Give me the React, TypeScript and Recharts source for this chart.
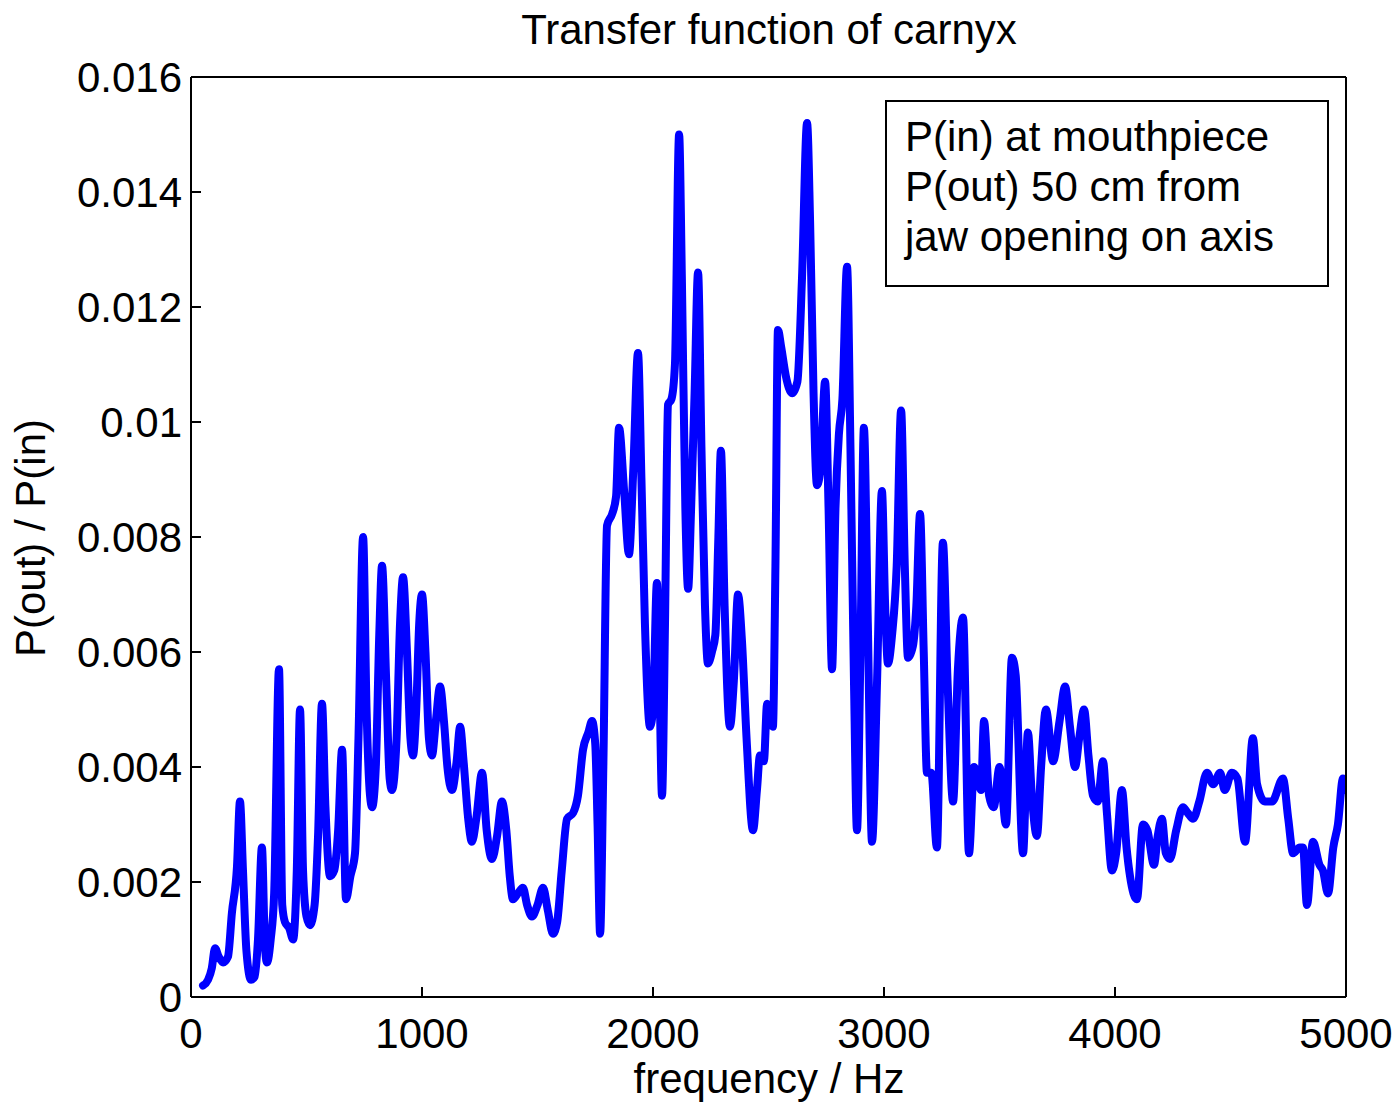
import React from 'react';
import { LineChart, Line, XAxis, YAxis } from 'recharts';

const freqs: number[] = [
  52, 74, 90, 104, 120, 139, 160, 177, 199, 212, 225, 240, 260, 275, 290, 307, 320, 329, 345, 360,
  381, 395, 407, 425, 442, 458, 472, 485, 500, 515, 535, 550, 567, 582, 602, 620, 637, 654, 671, 690,
  710, 725, 745, 760, 775, 784, 800, 815, 827, 845, 860, 870, 890, 905, 918, 935, 950, 961, 975, 988,
  1000, 1015, 1030, 1043, 1060, 1078, 1095, 1110, 1130, 1150, 1165, 1180, 1200, 1216, 1235, 1260, 1280, 1303, 1325, 1346,
  1365, 1380, 1394, 1415, 1437, 1455, 1476, 1500, 1524, 1545, 1567, 1585, 1605, 1628, 1654, 1675, 1697, 1720, 1736, 1750,
  1760, 1771, 1785, 1801, 1823, 1840, 1853, 1875, 1896, 1915, 1935, 1950, 1965, 1987, 2000, 2017, 2028, 2039, 2052, 2065,
  2080, 2095, 2113, 2125, 2140, 2152, 2165, 2180, 2195, 2210, 2225, 2238, 2255, 2270, 2283, 2294, 2310, 2333, 2350, 2368,
  2385, 2405, 2433, 2450, 2463, 2480, 2494, 2519, 2530, 2541, 2555, 2575, 2602, 2625, 2645, 2667, 2680, 2695, 2710, 2725,
  2745, 2760, 2775, 2790, 2805, 2820, 2840, 2855, 2870, 2883, 2898, 2913, 2930, 2948, 2970, 2991, 3005, 3017, 3035, 3055,
  3074, 3090, 3104, 3125, 3140, 3156, 3172, 3186, 3205, 3229, 3255, 3275, 3299, 3320, 3342, 3368, 3390, 3405, 3420, 3433,
  3455, 3475, 3500, 3528, 3554, 3570, 3602, 3623, 3640, 3662, 3680, 3701, 3732, 3760, 3784, 3805, 3827, 3845, 3866, 3885,
  3905, 3925, 3948, 3965, 3987, 4005, 4030, 4050, 4065, 4095, 4121, 4140, 4169, 4185, 4203, 4220, 4238, 4265, 4294, 4315,
  4338, 4365, 4398, 4425, 4455, 4475, 4506, 4530, 4563, 4597, 4615, 4649, 4680, 4727, 4750, 4771, 4800, 4814, 4831, 4857,
  4885, 4900, 4922, 4945, 4965, 4987, 5000,
];

const ratio: number[] = [
  0.0002, 0.0003, 0.0005, 0.00085, 0.0007, 0.0006, 0.0007, 0.00146, 0.00226, 0.0034, 0.0022, 0.0008, 0.0003, 0.00035, 0.001, 0.0026, 0.0009, 0.0006, 0.001, 0.0018,
  0.0057, 0.0016, 0.0013, 0.0012, 0.001, 0.0022, 0.005, 0.0022, 0.0014, 0.00125, 0.0016, 0.0028, 0.0051, 0.0033, 0.0021, 0.0022, 0.0029, 0.0043, 0.0017, 0.0021,
  0.0025, 0.0045, 0.008, 0.005, 0.0035, 0.0033, 0.004, 0.0063, 0.0075, 0.0055, 0.0038, 0.0036, 0.0045, 0.0065, 0.0073, 0.006, 0.0045, 0.0042, 0.005, 0.0065,
  0.007, 0.006, 0.0045, 0.0042, 0.0048, 0.0054, 0.0048, 0.004, 0.0036, 0.0041, 0.0047, 0.0041, 0.0031, 0.0027, 0.0031, 0.0039, 0.0029, 0.0024, 0.0028, 0.0034,
  0.0029, 0.0021, 0.0017, 0.0018, 0.0019, 0.0016, 0.0014, 0.0016, 0.0019, 0.0015, 0.0011, 0.0013, 0.0022, 0.0031, 0.0032, 0.0035, 0.0043, 0.0046, 0.0048, 0.0044,
  0.003, 0.0011, 0.004, 0.0082, 0.0084, 0.0087, 0.0099, 0.0088, 0.0077, 0.0092, 0.0112, 0.009, 0.0065, 0.0047, 0.005, 0.0072, 0.0055, 0.0035, 0.0065, 0.0103,
  0.0104, 0.011, 0.015, 0.0125, 0.0085, 0.0071, 0.0085, 0.0105, 0.0126, 0.0095, 0.0068, 0.0058, 0.006, 0.0063, 0.008, 0.0095, 0.0068, 0.0047, 0.0055, 0.007,
  0.0062, 0.0045, 0.0029, 0.0036, 0.0042, 0.0041, 0.0051, 0.0047, 0.0075, 0.0116, 0.0113, 0.0108, 0.0105, 0.0107, 0.0125, 0.0152, 0.0135, 0.0105, 0.0089, 0.0092,
  0.0107, 0.0085, 0.0057, 0.0085, 0.0098, 0.0104, 0.0127, 0.0095, 0.0055, 0.0029, 0.006, 0.0099, 0.0065, 0.0027, 0.0055, 0.0088, 0.0068, 0.0058, 0.0063, 0.0075,
  0.0102, 0.0075, 0.0059, 0.0061, 0.0068, 0.0084, 0.006, 0.0039, 0.0039, 0.0026, 0.0079, 0.0055, 0.0034, 0.0057, 0.0066, 0.0025, 0.004, 0.0038, 0.0036, 0.0048,
  0.0035, 0.0033, 0.004, 0.003, 0.0059, 0.0056, 0.0025, 0.0046, 0.0035, 0.0028, 0.004, 0.005, 0.0041, 0.0048, 0.0054, 0.0047, 0.004, 0.0045, 0.005, 0.0042,
  0.0035, 0.0034, 0.0041, 0.0032, 0.0022, 0.0025, 0.0036, 0.0026, 0.0021, 0.0017, 0.003, 0.0029, 0.0023, 0.0028, 0.0031, 0.0025, 0.0024, 0.0029, 0.0033, 0.0032,
  0.0031, 0.0034, 0.0039, 0.0037, 0.0039, 0.0036, 0.0039, 0.0038, 0.0027, 0.0045, 0.0037, 0.0034, 0.0034, 0.0038, 0.0031, 0.0025, 0.0026, 0.0026, 0.0016, 0.0027,
  0.0023, 0.0022, 0.0018, 0.0026, 0.003, 0.0038, 0.0036,
];

const xTicks: number[] = [0, 1000, 2000, 3000, 4000, 5000];
const yTicks: number[] = [0, 0.002, 0.004, 0.006, 0.008, 0.01, 0.012, 0.014, 0.016];

const titleText = 'Transfer function of carnyx';
const xLabel = 'frequency / Hz';
const yLabel = 'P(out) / P(in)';
const legendLines: string[] = ['P(in) at mouthpiece', 'P(out) 50 cm from', 'jaw opening on axis'];

const table = freqs.map((f, i) => ({ f, v: ratio[i] }));

const FONT = '"Liberation Sans", Arial, Helvetica, sans-serif';
const tickStyle = { fontSize: 42, fill: '#000', fontFamily: FONT };
const fmtY = (v: number) => String(Number(v.toFixed(3)));

export default function App() {
  return (
    <div style={{ position: 'absolute', left: 0, top: 0, width: 1399, height: 1106, background: '#fff', fontFamily: FONT }}>
      <LineChart width={1399} height={1106} data={table} margin={{ top: 76, right: 52, bottom: 108, left: 190 }}>
        <XAxis
          dataKey="f"
          type="number"
          domain={[0, 5000]}
          ticks={xTicks}
          interval={0}
          height={1}
          tickSize={-10}
          tickMargin={31}
          tick={tickStyle}
          stroke="#000"
          strokeWidth={2}
          allowDataOverflow
        />
        <XAxis
          xAxisId="top"
          orientation="top"
          dataKey="f"
          type="number"
          domain={[0, 5000]}
          ticks={xTicks}
          interval={0}
          height={1}
          tickSize={-10}
          tick={false}
          stroke="#000"
          strokeWidth={2}
          allowDataOverflow
        />
        <YAxis
          type="number"
          domain={[0, 0.016]}
          ticks={yTicks}
          interval={0}
          width={1}
          tickSize={-10}
          tickMargin={19}
          tick={tickStyle}
          tickFormatter={fmtY}
          stroke="#000"
          strokeWidth={2}
          allowDataOverflow
        />
        <YAxis
          yAxisId="right"
          orientation="right"
          type="number"
          domain={[0, 0.016]}
          ticks={yTicks}
          interval={0}
          width={1}
          tickSize={-10}
          tick={false}
          stroke="#000"
          strokeWidth={2}
          allowDataOverflow
        />
        <Line
          type="monotone"
          dataKey="v"
          stroke="#0000ff"
          strokeWidth={8}
          dot={false}
          strokeLinejoin="round"
          strokeLinecap="round"
          isAnimationActive={false}
        />
      </LineChart>
      <div style={{ position: 'absolute', left: 369, top: 9, width: 800, textAlign: 'center', fontSize: 42, lineHeight: '42px', color: '#000' }}>
        {titleText}
      </div>
      <div style={{ position: 'absolute', left: 369, top: 1058, width: 800, textAlign: 'center', fontSize: 42, lineHeight: '42px', color: '#000' }}>
        {xLabel}
      </div>
      <div
        style={{
          position: 'absolute',
          left: 31 - 200,
          top: 538 - 21,
          width: 400,
          height: 42,
          textAlign: 'center',
          fontSize: 42,
          lineHeight: '42px',
          color: '#000',
          transform: 'rotate(-90deg)',
        }}
      >
        {yLabel}
      </div>
      <div
        style={{
          position: 'absolute',
          left: 885,
          top: 100,
          width: 444,
          height: 187,
          boxSizing: 'border-box',
          border: '2px solid #000',
          background: '#fff',
          padding: '10px 0 0 18px',
          fontSize: 42,
          lineHeight: '50px',
          color: '#000',
        }}
      >
        {legendLines.map((l) => (
          <div key={l}>{l}</div>
        ))}
      </div>
    </div>
  );
}
